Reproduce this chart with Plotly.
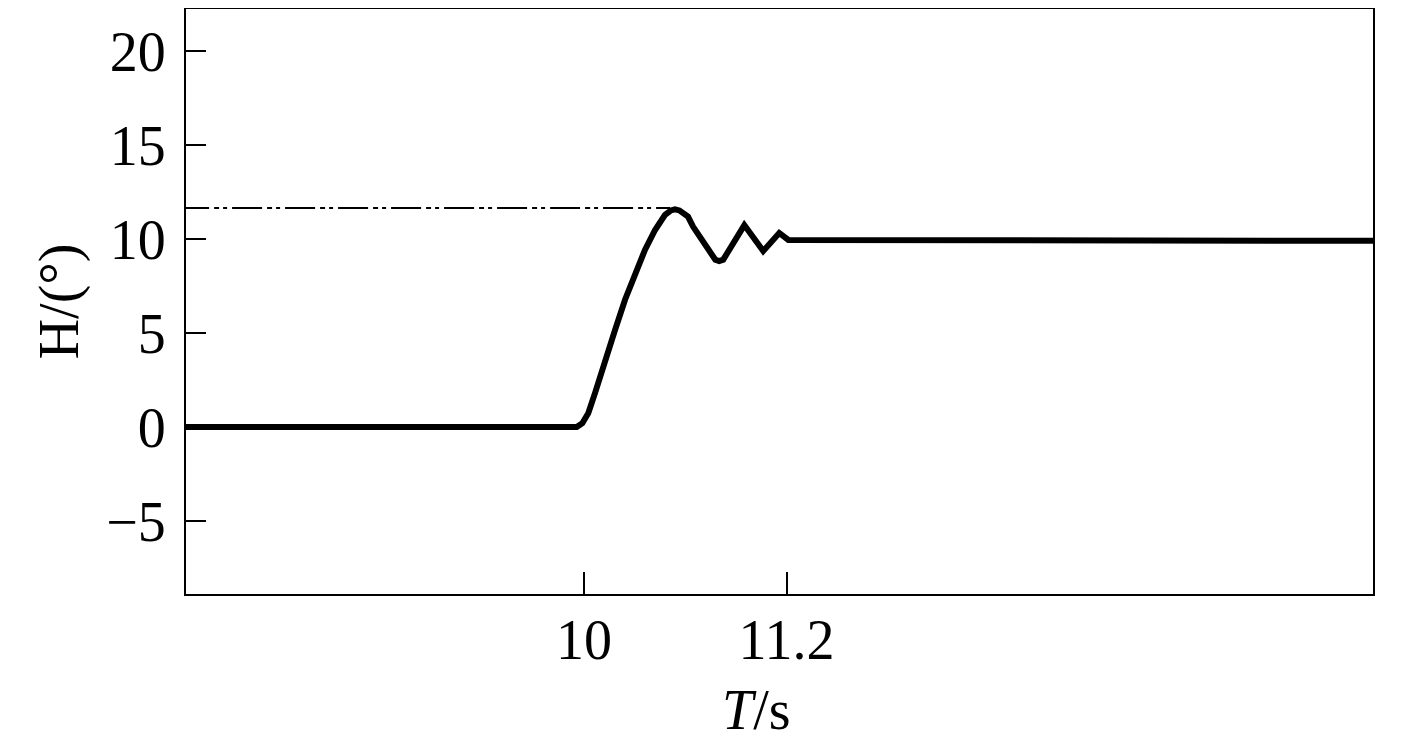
"""Step response H(T): overshoot then settling, with peak reference line."""

import plotly.graph_objects as go

# response curve
t_s = [7.6, 9.957, 9.99, 10.025, 10.065, 10.124, 10.184, 10.243, 10.302, 10.361,
       10.421, 10.480, 10.515, 10.539, 10.565, 10.616, 10.646, 10.729, 10.778,
       10.801, 10.825, 10.950, 11.062, 11.157, 11.211, 14.7]
h_deg = [0, 0, 0.2, 0.73, 1.80, 3.57, 5.17, 6.77, 8.21, 9.42,
         10.48, 11.28, 11.52, 11.58, 11.52, 11.19, 10.66, 9.59, 8.9,
         8.83, 8.9, 10.74, 9.36, 10.32, 9.95, 9.9]

# peak marker line
peak_t = [7.6, 10.51]
peak_h = [11.65, 11.65]

x_ticks = [10, 11.2]
y_ticks = [-5, 0, 5, 10, 15, 20]

FONT = "Liberation Serif, Times New Roman, serif"
FS = 56

fig = go.Figure()
fig.add_trace(go.Scatter(
    x=peak_t, y=peak_h, mode="lines",
    line=dict(color="black", width=2, dash="30px,5px,5px,4px,4px,5px"),
    showlegend=False,
))
fig.add_trace(go.Scatter(
    x=t_s, y=h_deg, mode="lines",
    line=dict(color="black", width=6),
    showlegend=False,
))

axis_common = dict(
    showgrid=False, zeroline=False,
    showline=True, linecolor="black", linewidth=2, mirror=True,
    ticks="inside", tickcolor="black", tickwidth=2,
    tickfont=dict(family=FONT, size=FS, color="black"),
    automargin=False,
)

# page has an 8px body margin, so the figure is sized to fit the window
fig.update_layout(
    width=1409, height=736,
    margin=dict(l=178, r=44, t=1, b=150),
    paper_bgcolor="white", plot_bgcolor="white",
    font=dict(family=FONT, size=FS, color="black"),
    xaxis=dict(
        range=[7.641, 14.676], tickvals=x_ticks, ticktext=["10", "11.2"],
        ticklen=22, ticklabelstandoff=-4,
        **axis_common,
    ),
    yaxis=dict(
        range=[-8.883, 22.234], tickvals=y_ticks,
        ticklen=20, ticklabelstandoff=7,
        title=dict(text="H/(°)", font=dict(family=FONT, size=FS), standoff=10),
        **axis_common,
    ),
)
fig.add_annotation(
    text="<i>T</i>/s", xref="paper", yref="paper", x=0.481, y=-0.198,
    xanchor="center", yanchor="middle", showarrow=False,
    font=dict(family=FONT, size=FS, color="black"),
)

fig.write_html("out.html")
